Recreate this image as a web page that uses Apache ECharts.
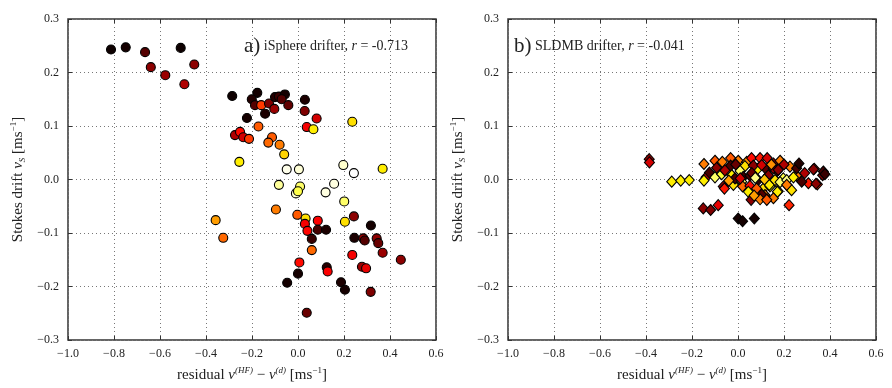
<!DOCTYPE html>
<html>
<head>
<meta charset="utf-8">
<script src="https://cdn.jsdelivr.net/npm/echarts@6/dist/echarts.min.js"></script>
<style>
  html, body { margin: 0; padding: 0; background: #fff; }
  #chart { width: 892px; height: 388px; }
</style>
</head>
<body>
<div id="chart"></div>
<script>
// Axis ranges and tick labels shared by both panels
var xTicks = [-1.0, -0.8, -0.6, -0.4, -0.2, 0.0, 0.2, 0.4, 0.6];
var yTicks = [-0.3, -0.2, -0.1, 0.0, 0.1, 0.2, 0.3];

// Panel titles and correlation coefficients
var panelLabels = ['a)', 'b)'];
var drifterNames = ['iSphere drifter', 'SLDMB drifter'];
var rValues = ['-0.713', '-0.041'];

// iSphere drifter: [residual, Stokes drift, colour value 0..1]
var isphere = [
  [-0.813, 0.243, 0.02], [-0.749, 0.247, 0.03], [-0.665, 0.238, 0.12], [-0.640, 0.210, 0.20],
  [-0.577, 0.195, 0.22], [-0.510, 0.246, 0.02], [-0.451, 0.215, 0.20], [-0.494, 0.178, 0.25],
  [-0.286, 0.156, 0.02], [-0.177, 0.162, 0.03], [-0.201, 0.150, 0.05], [-0.187, 0.139, 0.12],
  [-0.160, 0.139, 0.45], [-0.126, 0.142, 0.18], [-0.103, 0.132, 0.22], [-0.143, 0.123, 0.04],
  [-0.100, 0.154, 0.05], [-0.083, 0.155, 0.08], [-0.057, 0.159, 0.03], [-0.071, 0.150, 0.12],
  [-0.042, 0.139, 0.14], [0.030, 0.149, 0.04], [0.029, 0.128, 0.18], [0.081, 0.114, 0.30],
  [0.038, 0.098, 0.35], [0.067, 0.094, 0.72], [0.236, 0.108, 0.70], [-0.222, 0.115, 0.03],
  [-0.172, 0.099, 0.50], [-0.274, 0.083, 0.25], [-0.252, 0.089, 0.38], [-0.238, 0.079, 0.30],
  [-0.213, 0.076, 0.45], [-0.113, 0.079, 0.50], [-0.129, 0.069, 0.52], [-0.080, 0.065, 0.55],
  [-0.060, 0.047, 0.68], [-0.255, 0.033, 0.72], [-0.049, 0.019, 0.98], [0.004, 0.019, 0.96],
  [0.197, 0.027, 0.95], [0.243, 0.012, 1.00], [0.368, 0.020, 0.72], [-0.083, -0.010, 0.90],
  [0.009, -0.013, 0.85], [-0.009, -0.026, 0.95], [0.000, -0.022, 0.82], [0.120, -0.024, 0.97],
  [0.157, -0.008, 0.97], [0.201, -0.041, 0.85], [-0.096, -0.056, 0.55], [-0.003, -0.066, 0.50],
  [0.033, -0.073, 0.70], [-0.358, -0.076, 0.60], [-0.325, -0.109, 0.52], [0.030, -0.083, 0.35],
  [0.041, -0.096, 0.37], [0.086, -0.077, 0.36], [0.086, -0.094, 0.10], [0.122, -0.094, 0.04],
  [0.060, -0.111, 0.08], [0.060, -0.132, 0.52], [0.006, -0.155, 0.38], [0.000, -0.176, 0.03],
  [-0.047, -0.193, 0.03], [0.125, -0.164, 0.06], [0.129, -0.172, 0.36], [0.038, -0.249, 0.15],
  [0.204, -0.079, 0.70], [0.243, -0.069, 0.20], [0.317, -0.086, 0.03], [0.245, -0.109, 0.04],
  [0.284, -0.110, 0.22], [0.290, -0.114, 0.12], [0.342, -0.110, 0.20], [0.349, -0.119, 0.15],
  [0.368, -0.137, 0.22], [0.236, -0.141, 0.35], [0.447, -0.150, 0.20], [0.278, -0.163, 0.22],
  [0.296, -0.166, 0.33], [0.187, -0.192, 0.04], [0.204, -0.206, 0.03], [0.316, -0.210, 0.18]
];

// SLDMB drifter: [residual, Stokes drift, colour value 0..1]
var sldmb = [
  [-0.386, 0.038, 0.20], [-0.385, 0.032, 0.30],
  [-0.288, -0.004, 0.72], [-0.249, -0.002, 0.72], [-0.212, -0.001, 0.72],
  [-0.151, -0.054, 0.20], [-0.119, -0.057, 0.18], [-0.086, -0.048, 0.33],
  [0.001, -0.073, 0.03], [0.020, -0.078, 0.03], [0.071, -0.073, 0.03],
  [0.222, -0.048, 0.42],
  [-0.148, 0.029, 0.55], [-0.100, 0.035, 0.50], [-0.068, 0.033, 0.55], [-0.032, 0.040, 0.50],
  [0.001, 0.035, 0.55], [0.038, 0.033, 0.58], [0.059, 0.040, 0.38], [0.096, 0.040, 0.40],
  [0.127, 0.040, 0.30], [0.154, 0.030, 0.20], [0.183, 0.035, 0.55], [0.226, 0.024, 0.55],
  [-0.093, 0.022, 0.20], [-0.032, 0.026, 0.10], [0.030, 0.025, 0.70], [0.086, 0.020, 0.72],
  [0.125, 0.018, 0.12], [0.171, 0.016, 0.15], [0.067, 0.026, 0.20], [0.103, 0.027, 0.30],
  [-0.139, 0.004, 0.25], [-0.124, 0.013, 0.10], [-0.100, 0.004, 0.85], [-0.071, 0.010, 0.80],
  [-0.057, 0.017, 0.25], [-0.027, 0.008, 0.72], [0.009, 0.016, 0.85], [0.023, 0.005, 0.08],
  [0.052, 0.007, 0.10], [0.088, -0.001, 0.06], [0.165, -0.003, 0.85], [0.197, 0.002, 0.82],
  [0.132, 0.008, 0.20], [0.255, 0.007, 0.55], [-0.148, -0.002, 0.72],
  [-0.064, -0.013, 0.20], [-0.059, -0.017, 0.40], [-0.020, -0.010, 0.70], [-0.013, 0.002, 0.10],
  [0.016, -0.004, 0.85], [0.020, -0.013, 0.52], [0.052, -0.012, 0.38], [0.045, -0.023, 0.72],
  [0.110, -0.017, 0.70], [0.139, -0.013, 0.75], [0.175, -0.022, 0.70], [0.212, -0.010, 0.72],
  [0.233, -0.020, 0.70], [0.117, -0.029, 0.55], [0.103, -0.028, 0.12], [0.081, -0.017, 0.50],
  [0.057, -0.038, 0.20], [0.096, -0.037, 0.55], [0.127, -0.037, 0.50],
  [0.153, 0.021, 0.22], [0.175, 0.018, 0.20], [0.255, 0.021, 0.10], [0.332, 0.020, 0.40],
  [0.328, 0.019, 0.20], [0.368, 0.008, 0.18], [0.371, 0.015, 0.10], [0.378, 0.010, 0.08],
  [0.136, -0.010, 0.72], [0.171, -0.023, 0.72], [0.161, -0.001, 0.70], [0.183, -0.005, 0.85],
  [0.212, -0.001, 0.88], [0.241, 0.004, 0.72], [0.212, -0.010, 0.55], [0.306, -0.007, 0.40],
  [0.345, -0.009, 0.42], [0.339, -0.008, 0.20], [0.154, -0.035, 0.55], [0.125, -0.038, 0.50],
  [0.277, -0.004, 0.10], [0.060, 0.012, 0.15], [0.075, 0.003, 0.88], [0.115, 0.000, 0.65],
  [0.145, 0.028, 0.58], [0.200, 0.028, 0.25], [-0.010, 0.028, 0.15], [0.010, 0.002, 0.30],
  [-0.040, -0.002, 0.60], [0.070, -0.030, 0.60], [0.265, 0.030, 0.05], [0.290, 0.012, 0.25]
];

// matplotlib "hot" colour map
function hot(c) {
  function cl(v) { return Math.max(0, Math.min(1, v)); }
  var r = cl(c / 0.365), g = cl((c - 0.365) / (0.746 - 0.365)), b = cl((c - 0.746) / (1 - 0.746));
  return 'rgb(' + Math.round(r * 255) + ',' + Math.round(g * 255) + ',' + Math.round(b * 255) + ')';
}

function fmt(v) {
  var s = Math.abs(v).toFixed(1);
  return (v < -1e-9 ? '\u2212' : '') + s;
}

var FONT = '"Liberation Serif", "DejaVu Serif", serif';
var INK = '#222';

function rs(size, lh, extra) {
  return Object.assign({ fontFamily: FONT, fontSize: size, color: INK, fontWeight: 'normal', lineHeight: lh }, extra || {});
}

var nameRich = {
  t: rs(15, 18),
  i: rs(15, 18, { fontStyle: 'italic' }),
  s: rs(9, 9, { fontStyle: 'italic', verticalAlign: 'top' }),
  u: rs(9, 9, { verticalAlign: 'top' }),
  b: rs(9, 9, { fontStyle: 'italic', verticalAlign: 'bottom' })
};
var xName = '{t|residual }{i|v}{s|(HF)}{t| \u2212 }{i|v}{s|(d)}{t| [ms}{u|\u22121}{t|]}';
var yName = '{t|Stokes drift }{i|v}{b|S}{t| [ms}{u|\u22121}{t|]}';

var grids = [
  { left: 68, top: 19, width: 368, height: 321 },
  { left: 508, top: 19, width: 368, height: 321 }
];

var tickStyle = { show: true, inside: true, length: 4, lineStyle: { color: '#333' } };
var gridLine = { show: true, lineStyle: { type: [1, 3], color: '#777', width: 1 } };

var xAxes = [], yAxes = [];
grids.forEach(function (g, k) {
  xAxes.push({
    gridIndex: k, type: 'value', min: xTicks[0], max: xTicks[xTicks.length - 1], interval: 0.2,
    position: 'bottom',
    axisLine: { show: false, onZero: false },
    axisTick: tickStyle,
    axisLabel: { formatter: fmt, fontFamily: FONT, fontSize: 12, color: INK, margin: 8 },
    splitLine: gridLine,
    name: xName, nameLocation: 'middle', nameGap: 26,
    nameTextStyle: { rich: nameRich }
  });
  xAxes.push({
    gridIndex: k, type: 'value', min: xTicks[0], max: xTicks[xTicks.length - 1], interval: 0.2,
    position: 'top',
    axisLine: { show: false, onZero: false },
    axisTick: tickStyle,
    axisLabel: { show: false }, splitLine: { show: false }
  });
  yAxes.push({
    gridIndex: k, type: 'value', min: yTicks[0], max: yTicks[yTicks.length - 1], interval: 0.1,
    position: 'left',
    axisLine: { show: false, onZero: false },
    axisTick: tickStyle,
    axisLabel: { formatter: fmt, fontFamily: FONT, fontSize: 12, color: INK, margin: 9 },
    splitLine: gridLine,
    name: yName, nameLocation: 'middle', nameGap: 41, nameRotate: 90,
    nameTextStyle: { rich: nameRich }
  });
  yAxes.push({
    gridIndex: k, type: 'value', min: yTicks[0], max: yTicks[yTicks.length - 1], interval: 0.1,
    position: 'right',
    axisLine: { show: false, onZero: false },
    axisTick: tickStyle,
    axisLabel: { show: false }, splitLine: { show: false }
  });
});

var titleRich = {
  p: rs(21, 24),
  t: rs(14, 24),
  i: rs(14, 24, { fontStyle: 'italic' })
};
var titles = [0, 1].map(function (k) {
  return {
    text: '{p|' + panelLabels[k] + '}{t| ' + drifterNames[k] + ', }{i|r}{t| = ' + rValues[k] + '}',
    left: k === 0 ? 244 : 514, top: 34,
    padding: 0,
    textStyle: { fontWeight: 'normal', fontFamily: FONT, rich: titleRich }
  };
});

function pointColor(p) { return hot(p.value[2]); }

var option = {
  backgroundColor: '#fff',
  animation: false,
  title: titles,
  grid: grids.map(function (g) {
    return Object.assign({ show: true, borderColor: '#333', borderWidth: 1.5, backgroundColor: 'transparent' }, g);
  }),
  xAxis: xAxes,
  yAxis: yAxes,
  series: [
    {
      type: 'scatter', xAxisIndex: 0, yAxisIndex: 0, data: isphere,
      symbol: 'circle', symbolSize: 9,
      itemStyle: { color: pointColor, borderColor: '#000', borderWidth: 1.1, opacity: 1 }
    },
    {
      type: 'scatter', xAxisIndex: 2, yAxisIndex: 2, data: sldmb,
      symbol: 'diamond', symbolSize: [10, 11],
      itemStyle: { color: pointColor, borderColor: '#000', borderWidth: 1.1, opacity: 1 }
    }
  ]
};

echarts.init(document.getElementById('chart'), null, { renderer: 'canvas' }).setOption(option);
</script>
</body>
</html>
